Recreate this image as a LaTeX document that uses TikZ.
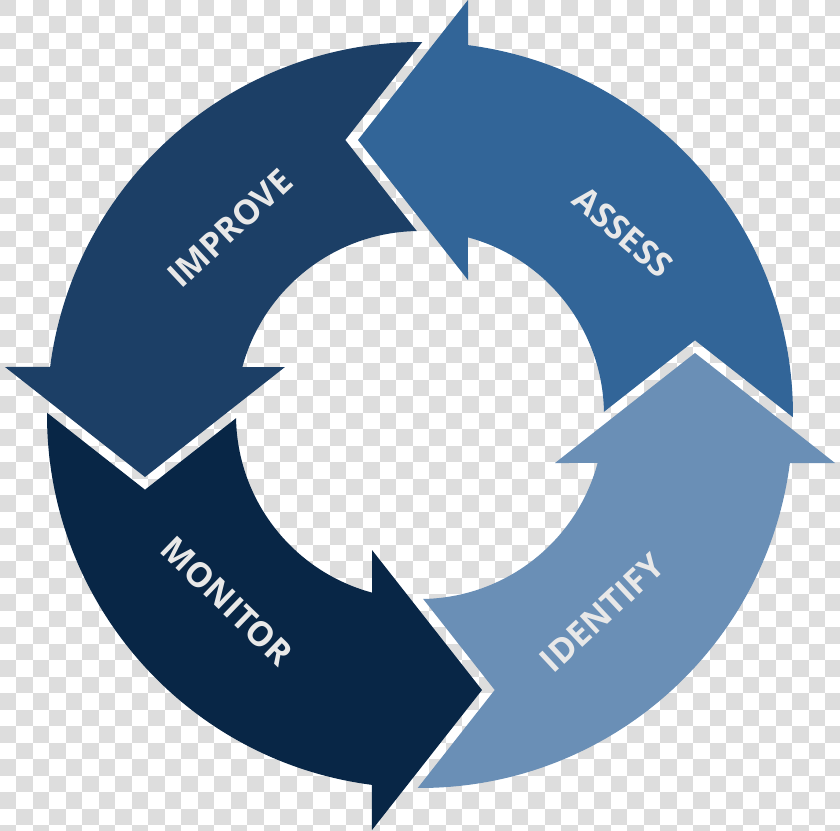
\documentclass[tikz,border=0pt]{standalone}
\usepackage{fontspec}
\newfontfamily\cyclefont{Open Sans}
\definecolor{checkgray}{RGB}{221,221,221}
\definecolor{assessblue}{RGB}{50,101,152}
\definecolor{improveblue}{RGB}{28,63,102}
\definecolor{monitorblue}{RGB}{8,38,70}
\definecolor{identifyblue}{RGB}{106,143,182}
\definecolor{lbltext}{RGB}{232,232,232}
% one ring arrow, drawn in the frame of ASSESS (tail right, head at the top)
\newcommand{\ringarrow}{(1.0:184) -- (275,74.7) -- (-0.35:373)
  arc[start angle=-0.35, end angle=82.6, radius=373]
  -- (48,415) -- (-62,275) -- (48,135) -- (74.88:184)
  arc[start angle=74.88, end angle=1.0, radius=184] -- cycle}
\tikzset{
  checker/.style={fill=checkgray},
  seg/.style={draw=none},
  assessseg/.style={seg,fill=assessblue},
  improveseg/.style={seg,fill=improveblue,rotate=90},
  monitorseg/.style={seg,fill=monitorblue,rotate=180},
  identifyseg/.style={seg,fill=identifyblue,rotate=270},
  lbl/.style={text=lbltext,inner sep=0pt,font=\cyclefont\bfseries\fontsize{34}{40}\selectfont}
}
\begin{document}
\begin{tikzpicture}[x=1pt,y=1pt]
  \useasboundingbox (-420,-415) rectangle (420,415);
  % transparent background grid
  \fill[white] (-420,-415) rectangle (420,415);
  \begin{scope}
    \clip (-420,-415) rectangle (420,415);
    \foreach \i in {0,2,...,50}
      \foreach \j in {0,2,...,50}
        \fill[checker] ({-420+16.5*\i},{415-16.5*\j}) rectangle ++(16.5,-16.5);
    \foreach \i in {1,3,...,49}
      \foreach \j in {1,3,...,49}
        \fill[checker] ({-420+16.5*\i},{415-16.5*\j}) rectangle ++(16.5,-16.5);
  \end{scope}

  % the four arrows
  \fill[assessseg] \ringarrow;
  \fill[improveseg] \ringarrow;
  \fill[monitorseg] \ringarrow;
  \fill[identifyseg] \ringarrow;

  % labels
  \node[lbl, rotate=-41] (assess) at (203,183) {ASSESS};
  \node[lbl, rotate=43] (improve) at (-190,187) {IMPROVE};
  \node[lbl, rotate=-44] (monitor) at (-193,-186) {MONITOR};
  \node[lbl, rotate=43] (identify) at (182,-198) {IDENTIFY};
\end{tikzpicture}
\end{document}
